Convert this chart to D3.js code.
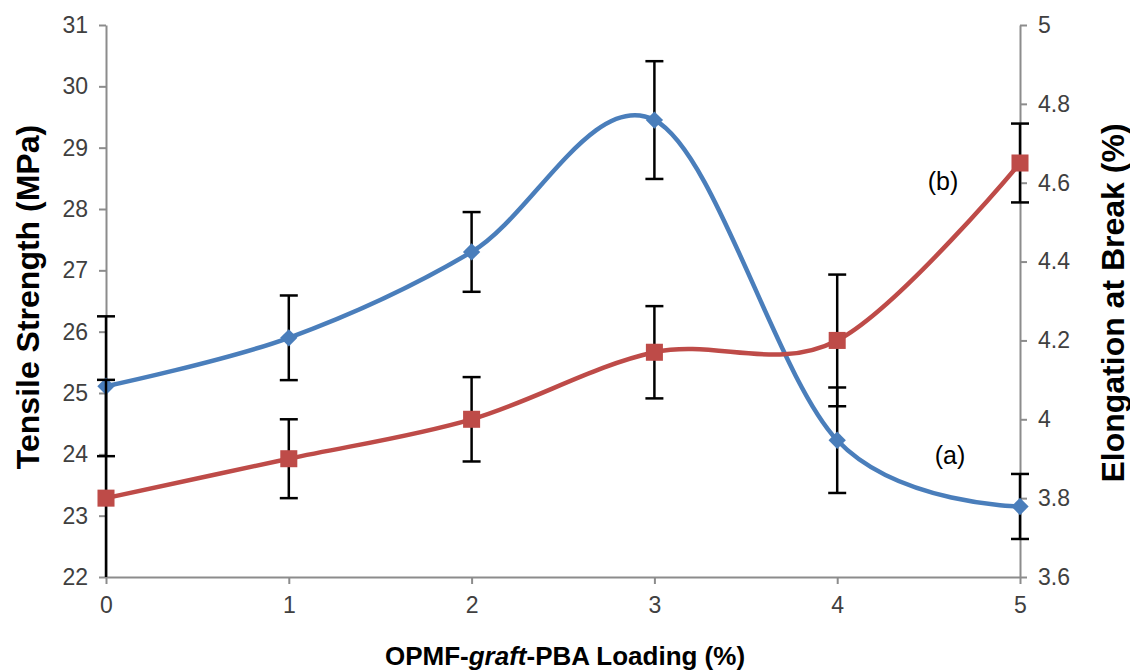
<!DOCTYPE html>
<html>
<head>
<meta charset="utf-8">
<script src="https://cdn.jsdelivr.net/npm/d3@7"></script>
<style>
  body { margin: 0; background: #fff; }
  svg { display: block; font-family: "Liberation Sans", Arial, sans-serif; }
</style>
</head>
<body>
<svg id="chart" width="1130" height="671"></svg>
<script>
const loading = [0, 1, 2, 3, 4, 5];

// (a) tensile strength, left axis (MPa)
const tensile = [25.11, 25.9, 27.3, 29.45, 24.23, 23.15];
const tensileErr = [1.14, 0.69, 0.65, 0.96, 0.86, 0.53];

// (b) elongation at break, right axis (%)
const elongation = [3.8, 3.9, 4.0, 4.17, 4.2, 4.65];
const elongationErr = [0.3, 0.1, 0.107, 0.117, 0.167, 0.1];

const leftTicks = [22, 23, 24, 25, 26, 27, 28, 29, 30, 31];
const rightTicks = [3.6, 3.8, 4.0, 4.2, 4.4, 4.6, 4.8, 5.0];

const svg = d3.select("#chart");
const margin = { top: 25, right: 110, bottom: 94, left: 106 };
const width = 1130, height = 671;

const x = d3.scaleLinear().domain([0, 5]).range([margin.left, width - margin.right]);
const yL = d3.scaleLinear().domain([22, 31]).range([height - margin.bottom, margin.top]);
const yR = d3.scaleLinear().domain([3.6, 5]).range([height - margin.bottom, margin.top]);

const axisColor = "#8c8c8c";
const textColor = "#404040";

// axes
const gx = svg.append("g")
  .attr("transform", `translate(0,${yL.range()[0]})`)
  .call(d3.axisBottom(x).tickValues(loading).tickSize(7).tickSizeOuter(0).tickPadding(13)
    .tickFormat(d3.format("d")));

const gl = svg.append("g")
  .attr("transform", `translate(${margin.left},0)`)
  .call(d3.axisLeft(yL).tickValues(leftTicks).tickSize(7).tickSizeOuter(0).tickPadding(11));

const gr = svg.append("g")
  .attr("transform", `translate(${width - margin.right},0)`)
  .call(d3.axisRight(yR).tickValues(rightTicks).tickSize(7).tickSizeOuter(0).tickPadding(11)
    .tickFormat((d) => String(+d.toFixed(1))));

[gx, gl, gr].forEach((g) => {
  g.select(".domain").attr("stroke", axisColor).attr("stroke-width", 2);
  g.selectAll(".tick line").attr("stroke", axisColor).attr("stroke-width", 2);
  g.selectAll(".tick text")
    .attr("fill", textColor)
    .attr("font-size", 23)
    .attr("font-family", "Liberation Sans, Arial, sans-serif");
});

// clip error bars to the plot area
svg.append("clipPath").attr("id", "plot-clip")
  .append("rect")
  .attr("x", margin.left - 20)
  .attr("y", margin.top - 20)
  .attr("width", width - margin.left - margin.right + 40)
  .attr("height", yL.range()[0] - margin.top + 20);

// diamonds are squares turned by 45 degrees, as in Excel
const series = [
  { name: "(a)", vals: tensile, errs: tensileErr, y: yL, color: "#4a7ebb", size: 150, rot: 45 },
  { name: "(b)", vals: elongation, errs: elongationErr, y: yR, color: "#be4b48", size: 290, rot: 0 }
];

const line = d3.line().curve(d3.curveCardinal.tension(0));
const capW = 9;

series.forEach((s) => {
  const pts = loading.map((d, i) => [x(d), s.y(s.vals[i])]);

  const eb = svg.append("g").attr("clip-path", "url(#plot-clip)")
    .attr("stroke", "#000").attr("stroke-width", 2.5).attr("fill", "none");
  loading.forEach((d, i) => {
    const cx = x(d);
    const top = s.y(s.vals[i] + s.errs[i]);
    const bot = s.y(s.vals[i] - s.errs[i]);
    eb.append("line").attr("x1", cx).attr("x2", cx).attr("y1", top).attr("y2", bot);
    eb.append("line").attr("x1", cx - capW).attr("x2", cx + capW).attr("y1", top).attr("y2", top);
    eb.append("line").attr("x1", cx - capW).attr("x2", cx + capW).attr("y1", bot).attr("y2", bot);
  });

  svg.append("path")
    .attr("d", line(pts))
    .attr("fill", "none")
    .attr("stroke", s.color)
    .attr("stroke-width", 4.5);

  svg.append("g").selectAll("path")
    .data(pts)
    .join("path")
    .attr("transform", (p) => `translate(${p[0]},${p[1]}) rotate(${s.rot})`)
    .attr("d", d3.symbol().type(d3.symbolSquare).size(s.size))
    .attr("fill", s.color);
});

// series labels
svg.append("text").attr("x", 943).attr("y", 190).attr("text-anchor", "middle")
  .attr("font-size", 25).attr("fill", "#000").text("(b)");
svg.append("text").attr("x", 950).attr("y", 464).attr("text-anchor", "middle")
  .attr("font-size", 25).attr("fill", "#000").text("(a)");

// axis titles
svg.append("text")
  .attr("transform", "translate(39,297) rotate(-90)")
  .attr("text-anchor", "middle")
  .attr("font-size", 32).attr("font-weight", "bold").attr("fill", "#000")
  .text("Tensile Strength (MPa)");

svg.append("text")
  .attr("transform", "translate(1124,303) rotate(-90)")
  .attr("text-anchor", "middle")
  .attr("font-size", 32).attr("font-weight", "bold").attr("fill", "#000")
  .text("Elongation at Break (%)");

const xt = svg.append("text")
  .attr("x", (margin.left + width - margin.right) / 2 + 2)
  .attr("y", 665)
  .attr("text-anchor", "middle")
  .attr("font-size", 26).attr("font-weight", "bold").attr("fill", "#000");
xt.append("tspan").text("OPMF-");
xt.append("tspan").attr("font-style", "italic").text("graft");
xt.append("tspan").text("-PBA Loading (%)");
</script>
</body>
</html>
